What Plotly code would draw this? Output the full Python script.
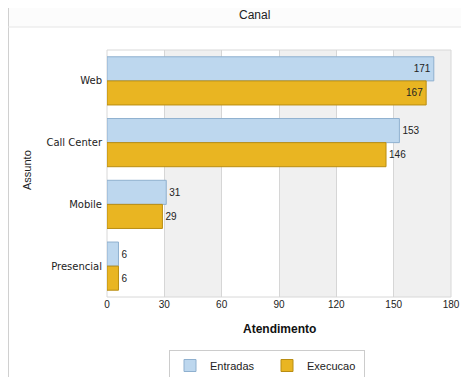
import plotly.graph_objects as go

categories = ["Web", "Call Center", "Mobile", "Presencial"]
entradas = [171, 153, 31, 6]
execucao = [167, 146, 29, 6]
x_ticks = [0, 30, 60, 90, 120, 150, 180]

OFF = 8  # page body margin
W, H = 469 - OFF, 377 - OFF
L, R, T, B = 107 - OFF, 18, 50 - OFF, 80
PW, PH = W - L - R, H - T - B

def px(x):
    return (x - OFF - L) / PW

def py(y):
    return (H - B - (y - OFF)) / PH

FONT = "Liberation Sans, Arial, sans-serif"

def positions(inside_set):
    return ["inside" if c in inside_set else "outside" for c in categories]

fig = go.Figure()
fig.add_trace(go.Bar(
    name="Entradas", y=categories, x=entradas, orientation="h",
    marker=dict(color="#bdd7ee", line=dict(color="#8fb0cf", width=1)),
    text=[str(v) for v in entradas], textposition=positions({"Web"}),
    insidetextanchor="end", textfont=dict(color="#222", size=10, family=FONT),
    cliponaxis=False,
))
fig.add_trace(go.Bar(
    name="Execucao", y=categories, x=execucao, orientation="h",
    marker=dict(color="#e9b522", line=dict(color="#b98d12", width=1)),
    text=[str(v) for v in execucao], textposition=positions({"Web"}),
    insidetextanchor="end", textfont=dict(color="#222", size=10, family=FONT),
    cliponaxis=False,
))

shapes = []
for i in range(len(x_ticks) - 1):
    if i % 2 == 1:
        shapes.append(dict(type="rect", xref="x", yref="paper", x0=x_ticks[i], x1=x_ticks[i + 1],
                           y0=0, y1=1, fillcolor="#f0f0f0", line=dict(width=0), layer="below"))
shapes.append(dict(type="rect", xref="paper", yref="paper", x0=0, x1=1, y0=0, y1=1,
                   line=dict(color="#d8d8d8", width=1), fillcolor="rgba(0,0,0,0)", layer="below"))
shapes.append(dict(type="rect", xref="paper", yref="paper", x0=px(8), x1=px(469), y0=py(27), y1=py(8),
                   fillcolor="#fcfcfc", line=dict(width=0), layer="below"))
shapes.append(dict(type="line", xref="paper", yref="paper", x0=px(8.5), x1=px(8.5), y0=py(8), y1=py(377),
                   line=dict(color="#d0d0d0", width=1)))
shapes.append(dict(type="line", xref="paper", yref="paper", x0=px(8), x1=px(469), y0=py(27), y1=py(27),
                   line=dict(color="#e6e6e6", width=1)))

annotations = [
    dict(text="Canal", xref="paper", yref="paper", x=px(254), y=py(15), showarrow=False,
         font=dict(size=12, color="#222", family=FONT), xanchor="center", yanchor="middle"),
    dict(text="<b>Atendimento</b>", xref="paper", yref="paper", x=px(279), y=py(329), showarrow=False,
         font=dict(size=12, color="#111", family=FONT), xanchor="center", yanchor="middle"),
    dict(text="Assunto", xref="paper", yref="paper", x=px(27), y=py(170), showarrow=False,
         textangle=-90, font=dict(size=11, color="#222", family=FONT), xanchor="center", yanchor="middle"),
]

fig.update_layout(
    width=W, height=H,
    margin=dict(l=L, r=R, t=T, b=B, pad=0, autoexpand=False),
    paper_bgcolor="white", plot_bgcolor="white",
    barmode="group", bargap=0.22, bargroupgap=0,
    font=dict(family=FONT, size=10, color="#222"),
    shapes=shapes, annotations=annotations,
    showlegend=True,
    legend=dict(orientation="h", x=px(267), xanchor="center", y=py(350), yanchor="top",
                bordercolor="#cccccc", borderwidth=1, bgcolor="white", tracegroupgap=0,
                font=dict(size=11, color="#222", family=FONT), itemwidth=30,
                entrywidth=52, entrywidthmode="pixels"),
    xaxis=dict(range=[0, 180], tickvals=x_ticks, ticktext=[str(v) for v in x_ticks],
               showgrid=True, gridcolor="#d6d6d6", gridwidth=1, zeroline=False, automargin=False,
               ticks="", tickfont=dict(size=10, color="#222"), layer="below traces", fixedrange=True),
    yaxis=dict(categoryorder="array", categoryarray=categories, autorange="reversed",
               showgrid=False, ticks="", ticklabelstandoff=4, automargin=False,
               tickfont=dict(size=10, color="#222", family="DejaVu Sans, sans-serif"), fixedrange=True),
)

fig.write_html("out.html")
